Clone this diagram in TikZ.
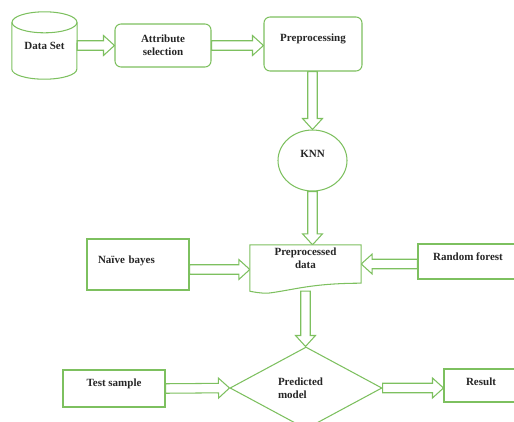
\documentclass[tikz,border=0pt]{standalone}
\usepackage{fontspec}
\setmainfont{Liberation Serif}
\usetikzlibrary{shapes.geometric,calc,backgrounds}
\definecolor{grn}{RGB}{125,192,95}
\newcommand\hollowarr[2]{%
  \path #1 coordinate (ha-s) #2 coordinate (ha-e);
  \path ($(ha-e)!11pt!(ha-s)$) coordinate (ha-h);
  \draw[harrow] ($(ha-s)!4.75pt!90:(ha-e)$) -- ($(ha-h)!4.75pt!-90:(ha-s)$)
    -- ($(ha-h)!10pt!-90:(ha-s)$) -- (ha-e) -- ($(ha-h)!10pt!90:(ha-s)$)
    -- ($(ha-h)!4.75pt!90:(ha-s)$) -- ($(ha-s)!4.75pt!-90:(ha-e)$) -- cycle;}
\tikzset{
  line/.style={draw=grn, line width=1.05pt},
  harrow/.style={draw=grn, line width=1.05pt, fill=white, line join=miter},
  lbl/.style={font=\bfseries\fontsize{11}{13}\selectfont, text=black!85},
  box/.style={line, lbl, fill=white, rectangle, inner sep=0pt},
  rbox/.style={box, rounded corners=6pt},
}
\begin{document}
\begin{tikzpicture}[x=1pt, y=-1pt]
\useasboundingbox (0,0) rectangle (514,421);
% nodes
\node[lbl, minimum width=65pt, minimum height=67pt, inner sep=0pt] (ds) at (44.5,45.5) {Data Set};
\draw[line] ([yshift=-10.5pt]ds.north west) -- ([yshift=10pt]ds.south west)
  arc[start angle=180, end angle=360, x radius=32.5pt, y radius=10pt]
  -- ([yshift=-10.5pt]ds.north east);
\draw[line] ([yshift=-10.5pt]ds.north) ellipse [x radius=32.5pt, y radius=10.5pt];
\node[rbox, minimum width=96pt, minimum height=43pt, align=center] (attr) at (163,45.5) {Attribute\\selection};
\node[rbox, minimum width=98pt, minimum height=54pt, text height=7pt, text depth=12pt] (pre) at (313,44) {Preprocessing};
\node[line, lbl, ellipse, fill=white, minimum width=69pt, minimum height=61pt, inner sep=0pt, text height=7pt, text depth=13pt] (knn) at (312.5,160.5) {KNN};
\node[lbl, minimum width=111pt, minimum height=46pt, inner sep=0pt, align=center, text height=7pt, text depth=6pt] (pd) at (305.5,268) {};
\draw[line, fill=white] (pd.north west) -- (pd.north east) -- ([yshift=8pt]pd.south east)
  .. controls +(-50pt,0pt) and +(25pt,3pt) .. ([xshift=18pt,yshift=-2pt]pd.south west)
  .. controls +(-8pt,0pt) and +(5pt,-1pt) .. (pd.south west) -- cycle;
\node[lbl, align=center, text height=7pt, text depth=6pt] at (pd.center) {Preprocessed\\data};
\node[box, minimum width=102pt, minimum height=51pt, text width=80pt, align=left, inner xsep=11pt, text height=7pt, text depth=9pt] (nb) at (138,264.5) {Naïve bayes};
\node[box, minimum width=100pt, minimum height=35pt, text height=7pt, text depth=9pt] (rf) at (468,261.5) {Random forest};
\node[line, lbl, diamond, fill=white, minimum width=152pt, minimum height=82pt, inner sep=0pt, text width=56pt, align=left] (pm) at (306,388) {Predicted\\model};
\node[box, minimum width=102pt, minimum height=37pt, text height=7pt, text depth=11pt] (ts) at (114,388.5) {Test sample};
\node[box, minimum width=74pt, minimum height=33pt, text height=7pt, text depth=7.6pt] (res) at (481,385.5) {Result};
% connectors
\begin{pgfonlayer}{background}
\hollowarr{(ds.east)}{(attr.west)}
\hollowarr{(attr.east)}{(attr.east -| pre.west)}
\hollowarr{(pre.south -| knn.north)}{(knn.north)}
\hollowarr{(knn.south)}{(knn.south |- pd.north)}
\hollowarr{([yshift=-5pt]nb.east)}{([yshift=-5pt]nb.east -| pd.west)}
\hollowarr{([yshift=-2.5pt]rf.west)}{([yshift=-2.5pt]rf.west -| pd.east)}
\hollowarr{(pd.south)}{(pd.south |- pm.north)}
\hollowarr{(ts.east)}{(pm.west)}
\hollowarr{(pm.east)}{(pm.east -| res.west)}
\end{pgfonlayer}
\end{tikzpicture}
\end{document}
